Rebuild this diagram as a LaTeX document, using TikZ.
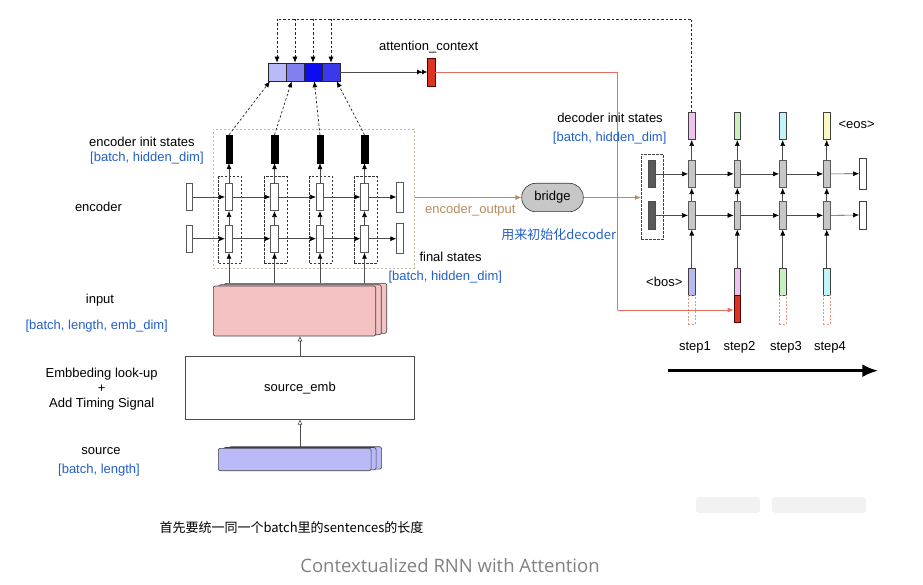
\documentclass[tikz,border=0pt]{standalone}
\usepackage{fontspec}
\setmainfont{Liberation Sans}
\newfontfamily\cjkfont{Noto Sans CJK SC}
\newfontfamily\capfont{Open Sans}
\usetikzlibrary{arrows.meta,calc}
\definecolor{txtblue}{RGB}{35,95,200}
\definecolor{tanc}{RGB}{180,140,95}
\definecolor{tandot}{RGB}{200,185,160}
\definecolor{attA}{RGB}{186,186,248}
\definecolor{attB}{RGB}{128,128,240}
\definecolor{attC}{RGB}{12,12,240}
\definecolor{attD}{RGB}{58,58,236}
\definecolor{ctxred}{RGB}{224,50,32}
\definecolor{redline}{RGB}{232,110,95}
\definecolor{pinkc}{RGB}{240,192,240}
\definecolor{greenc}{RGB}{200,240,190}
\definecolor{cyanc}{RGB}{192,244,248}
\definecolor{yellowc}{RGB}{248,248,192}
\definecolor{bluec}{RGB}{184,184,240}
\definecolor{inpink}{RGB}{244,194,194}
\definecolor{srcblue}{RGB}{186,186,248}
\definecolor{orgdot}{RGB}{225,150,125}
\definecolor{capgray}{RGB}{128,128,128}
\tikzset{
  lbl/.style={font=\fontsize{13}{15}\selectfont, inner sep=0pt},
  bluelbl/.style={lbl, text=txtblue},
  arr/.style={draw=black!70, line width=0.6pt, -{Latex[length=6pt,width=5pt,color=black]}},
  cellw/.style={draw=black!65, fill=white, minimum width=7.5pt, minimum height=27.5pt, inner sep=0pt, line width=0.6pt},
  blackbar/.style={draw=black, fill=black, minimum width=6.5pt, minimum height=28pt, inner sep=0pt},
  coldash/.style={draw=black!80, dash pattern=on 2.5pt off 1.5pt, minimum width=23pt, minimum height=86.6pt, inner sep=0pt, line width=0.6pt},
  attcell/.style={draw=black!85, minimum width=18pt, minimum height=18pt, inner sep=0pt, line width=0.6pt},
  dasharr/.style={draw=black!85, line width=0.7pt, dash pattern=on 2.5pt off 2pt, -{Latex[length=6pt,width=5pt,color=black]}},
  dashline/.style={draw=black!85, line width=0.7pt, dash pattern=on 2.5pt off 2pt},
  decell/.style={draw=black!65, fill=black!22, minimum width=6.7pt, minimum height=27.7pt, inner sep=0pt, line width=0.6pt},
  initbar/.style={draw=black!70, fill=black!65, minimum width=6.7pt, minimum height=27.5pt, inner sep=0pt},
  smallbox/.style={draw=black!75, minimum width=6.7pt, minimum height=27pt, inner sep=0pt, line width=0.6pt},
  orgbox/.style={draw=orgdot, dash pattern=on 2pt off 1.5pt, minimum width=6.7pt, minimum height=29pt, inner sep=0pt, line width=0.6pt},
  stackpink/.style={draw=black!75, fill=inpink, rounded corners=2pt, minimum width=162.4pt, minimum height=50pt, inner sep=0pt, line width=0.6pt},
  stackblue/.style={draw=black!75, fill=srcblue, rounded corners=2pt, minimum width=152.7pt, minimum height=22.4pt, inner sep=0pt, line width=0.6pt},
  openarr/.style={draw=black!70, line width=0.6pt, -{Triangle[open,length=5pt,width=4.5pt]}},
}
\begin{document}
\begin{tikzpicture}[x=1pt,y=-1pt]
\useasboundingbox (0,0) rectangle (923,585);

% ---------- encoder ----------
\node[draw=tandot, dash pattern=on 2pt off 2pt, line width=0.9pt, minimum width=201pt, minimum height=139pt, inner sep=0pt] (encbox) at (313.8,198.8) {};
\foreach \i/\x in {1/229,2/274.5,3/320,4/364.5} {
  \node[coldash] (ed\i) at (\x+1,220) {};
  \node[cellw] (eu\i) at (\x,197) {};
  \node[cellw] (el\i) at (\x,238.7) {};
  \node[blackbar] (eb\i) at (\x,149) {};
}
\node[cellw, minimum width=6.7pt] (Lu) at (189.3,197) {};
\node[cellw, minimum width=6.7pt] (Ll) at (189.3,238.7) {};
\node[cellw, minimum width=6.7pt, minimum height=30pt] (Ru) at (400,197) {};
\node[cellw, minimum width=6.7pt, minimum height=30pt] (Rl) at (400,238.7) {};
\foreach \r in {u,l} {
  \draw[arr] (L\r.east) -- (e\r1.west);
  \foreach \a/\b in {1/2,2/3,3/4} \draw[arr] (e\r\a.east) -- (e\r\b.west);
  \draw[arr] (e\r4.east) -- (R\r.west);
}

% ---------- input / embedding / source ----------
\node[stackpink] (inpb2) at (305.5,308.3) {};
\node[stackpink] (inpb1) at (300,309.7) {};
\node[stackpink] (inp) at (294.5,311) {};
\node[draw=black!70, line width=0.6pt, minimum width=228.6pt, minimum height=62.6pt, inner sep=0pt, lbl] (emb) at (300,388) {source\_emb};
\node[stackblue] (srcb2) at (305.2,457.9) {};
\node[stackblue] (srcb1) at (299.7,458.7) {};
\node[stackblue] (src) at (294.7,459.5) {};
\draw[openarr] (emb.south |- src.north) -- (emb.south);
\draw[openarr] (emb.north) -- (emb.north |- inp.south);

\foreach \i in {1,...,4} {
  \draw[arr] (el\i.south |- inpb2.north) -- (el\i.south);
  \draw[arr] (el\i.north) -- (eu\i.south);
  \draw[arr] (eu\i.north) -- (eb\i.south);
}

% ---------- attention ----------
\node[attcell, fill=attA] (a1) at (277,72) {};
\node[attcell, fill=attB] (a2) at (295,72) {};
\node[attcell, fill=attC] (a3) at (313,72) {};
\node[attcell, fill=attD] (a4) at (331,72) {};
\node[draw=black!70!red, fill=ctxred, minimum width=7.7pt, minimum height=28pt, inner sep=0pt] (ctx) at (431.2,72) {};
\draw[draw=black!70, line width=0.6pt, -{Latex[length=5pt,width=5pt,color=black]Latex[length=5pt,width=5pt,color=black]}] (a4.east) -- (ctx.west);
\draw[dasharr] (eb1.north) -- ([xshift=-7pt]a1.south);
\draw[dasharr] (eb2.north) -- ([xshift=-3.3pt]a2.south);
\draw[dasharr] (eb3.north) -- ([xshift=1.3pt]a3.south);
\draw[dasharr] (eb4.north) -- ([xshift=5.7pt]a4.south);

% ---------- bridge ----------
\node[draw=black!80, fill=black!22, rounded corners=14pt, minimum width=61.6pt, minimum height=28.4pt, inner sep=0pt, lbl, line width=0.6pt] (bridge) at (552.5,197.5) {bridge};
\draw[draw=tanc, line width=0.7pt, -{Latex[length=6pt,width=5pt]}] (encbox.east |- bridge.west) -- (bridge.west);

% ---------- decoder ----------
\node[draw=black!75, dash pattern=on 2.5pt off 1.5pt, minimum width=22.3pt, minimum height=85.3pt, inner sep=0pt, line width=0.6pt] (dd) at (652.2,196.7) {};
\draw[draw=tanc, line width=0.7pt, -{Latex[length=6pt,width=5pt]}] (bridge.east) -- (dd.west |- bridge.east);
\node[initbar] (Iu) at (651.7,173.9) {};
\node[initbar] (Il) at (651.7,215.4) {};
\foreach \i/\x/\oc/\ic in {1/691.7/pinkc/bluec,2/737.3/greenc/pinkc,3/782.7/cyanc/greenc,4/826.7/yellowc/cyanc} {
  \node[decell] (du\i) at (\x,173.9) {};
  \node[decell] (dl\i) at (\x,215.4) {};
  \node[smallbox, fill=\oc] (do\i) at (\x,126.2) {};
  \node[smallbox, fill=\ic] (di\i) at (\x,281.7) {};
}
\node[orgbox] (dx1) at (691.7,309.5) {};
\node[draw=black!70!red, fill=ctxred, minimum width=6.7pt, minimum height=27pt, inner sep=0pt, line width=0.6pt] (dx2) at (737.3,309.2) {};
\node[orgbox] (dx3) at (782.7,309.5) {};
\node[orgbox] (dx4) at (826.7,309.5) {};
\node[smallbox, fill=white, minimum height=30.7pt] (Du) at (862.7,173.7) {};
\node[smallbox, fill=white, minimum height=28pt] (Dl) at (862.7,215) {};
\foreach \r in {u,l} {
  \draw[arr] (I\r.east) -- (d\r1.west);
  \foreach \a/\b in {1/2,2/3,3/4} \draw[arr] (d\r\a.east) -- (d\r\b.west);
  \draw[arr] (d\r4.east) -- (D\r.west);
}
\foreach \i in {1,...,4} {
  \draw[arr] (di\i.north) -- (dl\i.south);
  \draw[arr] (dl\i.north) -- (du\i.south);
  \draw[arr] (du\i.north) -- (do\i.south);
}

% ---------- top dashed feedback ----------
\coordinate (tr) at (691.7,19);
\draw[dashline] (do1.north) -- (tr) -- (tr -| a1.north);
\foreach \i in {1,...,4} \draw[dasharr] (tr -| a\i.north) -- (a\i.north);

% ---------- red context line ----------
\coordinate (rc) at (617.7,310);
\draw[draw=redline, line width=0.7pt] (ctx.east) -| (rc);
\draw[draw=redline, line width=0.7pt, -{Latex[length=6pt,width=5pt]}] (rc) -- (rc -| dx2.west);

% ---------- time arrow ----------
\coordinate (ta1) at (668.3,370.7);
\coordinate (ta2) at (878.3,370.7);
\draw[line width=3pt, -{Latex[length=16pt,width=13pt]}] (ta1) -- (ta2);

% ---------- labels ----------
\node[lbl, anchor=west] (lctx) at (379,47.5) {attention\_context};
\node[lbl, anchor=west] (lenc1) at (89,141.7) {encoder init states};
\node[bluelbl, anchor=west] (lenc2) at (90,158.3) {[batch, hidden\_dim]};
\node[lbl] (lenc) at (98.5,207) {encoder};
\node[lbl, anchor=west, text=tanc] (leo) at (425,210) {encoder\_output};
\node[bluelbl] (linit) at (558.8,235) {\cjkfont 用来初始化decoder};
\node[lbl, anchor=west] (lfin1) at (419.3,256.7) {final states};
\node[bluelbl, anchor=west] (lfin2) at (388.3,276.7) {[batch, hidden\_dim]};
\node[lbl] (ldec1) at (610,118.3) {decoder init states};
\node[bluelbl] (ldec2) at (609.7,138.3) {[batch, hidden\_dim]};
\node[lbl, anchor=west] (leos) at (838.3,125) {<eos>};
\node[lbl] (lbos) at (664.3,282.3) {<bos>};
\node[lbl] (s1) at (695,347.7) {step1};
\node[lbl] (s2) at (739.5,347.7) {step2};
\node[lbl] (s3) at (786,347.7) {step3};
\node[lbl] (s4) at (830,347.7) {step4};
\node[lbl] (linp) at (100,300) {input};
\node[bluelbl] (linp2) at (96.7,326) {[batch, length, emb\_dim]};
\node[lbl, align=center] (lemb) at (101.7,389) {Embbeding look-up\\+\\Add Timing Signal};
\node[lbl] (lsrc) at (101,451) {source};
\node[bluelbl] (lsrc2) at (99,470) {[batch, length]};
\node[lbl, anchor=west] (lcn) at (159.3,527.7) {\cjkfont 首先要统一同一个batch里的sentences的长度};
\node[inner sep=0pt, text=capgray, font=\capfont\fontsize{18.5}{20}\selectfont] (cap) at (450,566) {Contextualized RNN with Attention};

% blurred watermark
\fill[black!5, rounded corners=3pt] (696,497) rectangle (760,513);
\fill[black!5, rounded corners=3pt] (772,497) rectangle (866,513);
\end{tikzpicture}
\end{document}
